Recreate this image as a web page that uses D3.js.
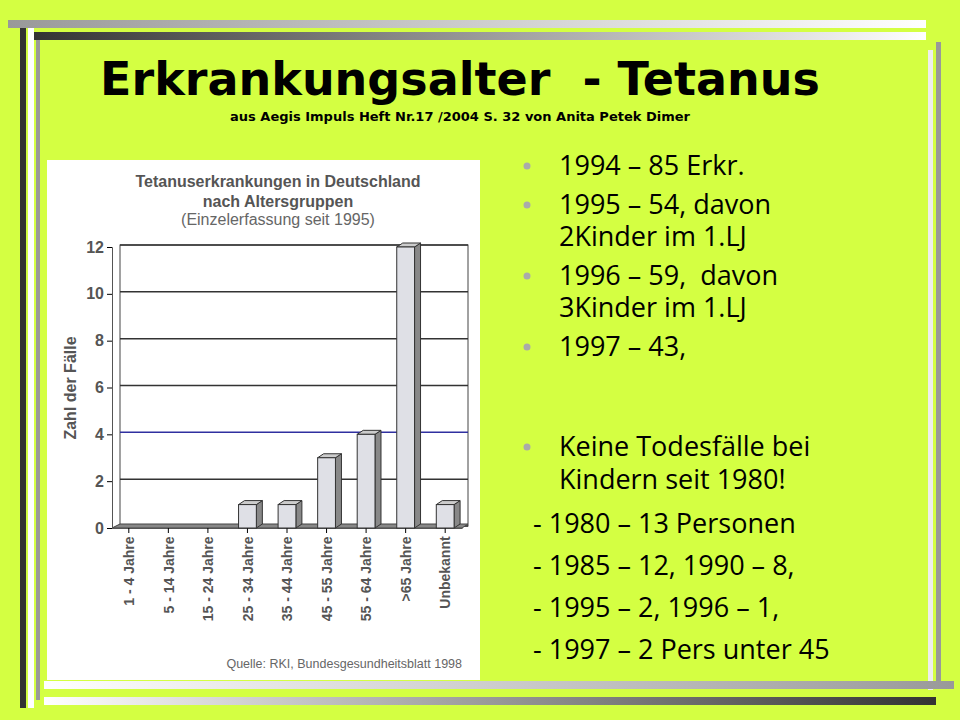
<!DOCTYPE html>
<html><head><meta charset="utf-8">
<script src="https://cdn.jsdelivr.net/npm/d3@7"></script>
<style>body{margin:0;background:#d4ff42} text{white-space:pre}</style>
</head><body>
<svg id="c" width="960" height="720"></svg>
<script>
var categories = ["1 - 4 Jahre","5 - 14 Jahre","15 - 24 Jahre","25 - 34 Jahre","35 - 44 Jahre","45 - 55 Jahre","55 - 64 Jahre",">65 Jahre","Unbekannt"];
var cases = [0, 0, 0, 1, 1, 3, 4, 12, 1];
var yTicks = [0, 2, 4, 6, 8, 10, 12];
var bullets = [["1994 – 85 Erkr."],["1995 – 54, davon","2Kinder im 1.LJ"],["1996 – 59,  davon","3Kinder im 1.LJ"],["1997 – 43,"]];
var bullet2 = ["Keine Todesfälle bei","Kindern seit 1980!"];
var dashLines = ["- 1980 – 13 Personen","- 1985 – 12, 1990 – 8,","- 1995 – 2, 1996 – 1,","- 1997 – 2 Pers unter 45"];

var svg = d3.select("#c");
svg.append("rect").attr("width",960).attr("height",720).attr("fill","#d4ff42");
var defs = svg.append("defs");
function grad(id, a, b){
  var g = defs.append("linearGradient").attr("id", id);
  g.append("stop").attr("offset","0%").attr("stop-color",a);
  g.append("stop").attr("offset","100%").attr("stop-color",b);
}
grad("g1","#999","#fff"); grad("g2","#333","#fff"); grad("g3","#fff","#999"); grad("g4","#fff","#333");
// frame decoration
svg.append("rect").attr("x",8).attr("y",20).attr("width",918).attr("height",8).attr("fill","url(#g1)");
svg.append("rect").attr("x",31).attr("y",32).attr("width",895).attr("height",8).attr("fill","url(#g2)");
svg.append("rect").attr("x",20).attr("y",28).attr("width",6).attr("height",680).attr("fill","#333");
svg.append("rect").attr("x",28).attr("y",28).attr("width",6).attr("height",680).attr("fill","#fff");
svg.append("rect").attr("x",36).attr("y",40).attr("width",4).attr("height",660).attr("fill","#999");
svg.append("rect").attr("x",936).attr("y",42).attr("width",5).attr("height",640).attr("fill","#999");
svg.append("rect").attr("x",928).attr("y",50).attr("width",5).attr("height",640).attr("fill","#eee");
svg.append("rect").attr("x",44).attr("y",681).attr("width",910).attr("height",8).attr("fill","url(#g3)");
svg.append("rect").attr("x",44).attr("y",697).attr("width",892).attr("height",8).attr("fill","url(#g4)");

svg.append("text").attr("x",460).attr("y",95).attr("text-anchor","middle")
  .attr("font-family","DejaVu Sans").attr("font-weight","bold").attr("font-size",46).text("Erkrankungsalter  - Tetanus");
svg.append("text").attr("x",460).attr("y",121).attr("text-anchor","middle")
  .attr("font-family","DejaVu Sans").attr("font-weight","bold").attr("font-size",13).text("aus Aegis Impuls Heft Nr.17 /2004 S. 32 von Anita Petek Dimer");

// chart panel
svg.append("rect").attr("x",47).attr("y",160).attr("width",433).attr("height",520).attr("fill","#fff");
var ff = "Liberation Sans, Arial, sans-serif";
var t = [["Tetanuserkrankungen in Deutschland",187,"bold","#555"],["nach Altersgruppen",207,"bold","#555"],["(Einzelerfassung seit 1995)",225,"normal","#666"]];
t.forEach(function(d){
  svg.append("text").attr("x",278).attr("y",d[1]).attr("text-anchor","middle").attr("font-family",ff)
    .attr("font-weight",d[2]).attr("fill",d[3]).attr("font-size",16).text(d[0]);
});
var x = d3.scaleBand().domain(categories).range([112,462]).paddingInner(0.55).paddingOuter(0.2);
var y = d3.scaleLinear().domain([0,12]).range([528,247]);
var dx = 6, dy = 4;
var g = svg.append("g");
// back wall
g.append("rect").attr("x",120).attr("y",y(12)-2).attr("width",348).attr("height",y(0)-y(12)).attr("fill","#fff").attr("stroke","#444");
yTicks.forEach(function(v){
  g.append("line").attr("x1",120).attr("x2",468).attr("y1",y(v)-2).attr("y2",y(v)-2)
    .attr("stroke", v==4 ? "#3030a0" : "#333").attr("stroke-width",1.5);
});
// floor
g.append("path").attr("d","M112,"+y(0)+"L120,"+(y(0)-4)+"L468,"+(y(0)-4)+"L462,"+y(0)+"Z").attr("fill","#888").attr("stroke","#444");
var yAxis = d3.axisLeft(y).tickValues(yTicks).tickSize(5).tickFormat(d3.format("d"));
var ya = g.append("g").attr("transform","translate(112,0)").call(yAxis);
ya.selectAll("text").attr("font-family",ff).attr("font-weight","bold").attr("font-size",16).attr("fill","#555");
ya.select(".domain").attr("stroke","#555");
var xAxis = d3.axisBottom(x).tickSize(5).tickSizeOuter(0);
var xa = g.append("g").attr("transform","translate(0,"+y(0)+")").call(xAxis);
xa.selectAll("text").attr("font-family",ff).attr("font-weight","bold").attr("font-size",14).attr("fill","#555")
  .attr("text-anchor","end").attr("transform","rotate(-90)").attr("dx","-0.6em").attr("dy","-0.2em");
xa.select(".domain").attr("stroke","#555");
// bars
cases.forEach(function(v,i){
  if (v <= 0) return;
  var bx = x(categories[i]), bw = x.bandwidth(), top = y(v), bot = y(0);
  g.append("path").attr("d","M"+(bx+bw)+","+top+"l"+dx+","+(-dy)+"L"+(bx+bw+dx)+","+(bot-dy)+"L"+(bx+bw)+","+bot+"Z").attr("fill","#888").attr("stroke","#333");
  g.append("path").attr("d","M"+bx+","+top+"l"+dx+","+(-dy)+"h"+bw+"l"+(-dx)+","+dy+"Z").attr("fill","#ccc").attr("stroke","#333");
  g.append("rect").attr("x",bx).attr("y",top).attr("width",bw).attr("height",bot-top).attr("fill","#dfe0e6").attr("stroke","#333");
});
svg.append("text").attr("transform","translate(76,388)rotate(-90)").attr("text-anchor","middle").attr("font-family",ff)
  .attr("font-weight","bold").attr("font-size",16).attr("fill","#555").text("Zahl der Fälle");
svg.append("text").attr("x",462).attr("y",668).attr("text-anchor","end").attr("font-family",ff)
  .attr("font-size",12.5).attr("fill","#666").text("Quelle: RKI, Bundesgesundheitsblatt 1998");

// bullet text
var tf = "Open Sans, Liberation Sans, sans-serif";
var yy = 175;
bullets.forEach(function(b){
  svg.append("circle").attr("cx",527).attr("cy",yy-9).attr("r",3.5).attr("fill","#aaa");
  b.forEach(function(line,j){
    svg.append("text").attr("x",559).attr("y",yy+j*32).attr("font-family",tf).attr("font-size",27).text(line);
  });
  yy += b.length*32 + 7;
});
yy = 456;
svg.append("circle").attr("cx",527).attr("cy",yy-9).attr("r",3.5).attr("fill","#aaa");
bullet2.forEach(function(line,j){
  svg.append("text").attr("x",559).attr("y",yy+j*33).attr("font-family",tf).attr("font-size",27).text(line);
});
dashLines.forEach(function(line,j){
  svg.append("text").attr("x",533).attr("y",533+j*42).attr("font-family",tf).attr("font-size",27).text(line);
});
</script>
</body></html>
